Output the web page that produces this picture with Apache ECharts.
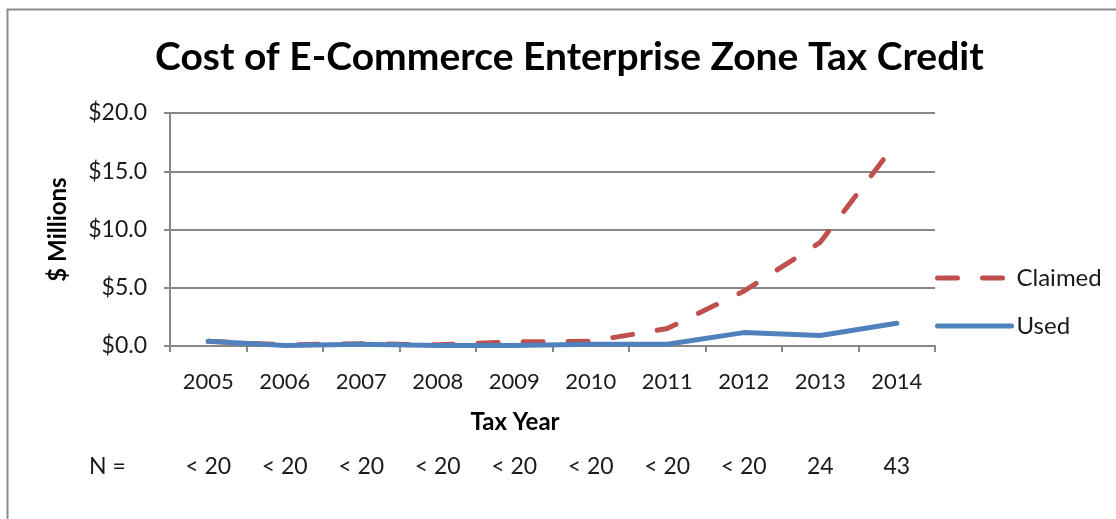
<!DOCTYPE html>
<html>
<head>
<meta charset="utf-8">
<script src="https://cdn.jsdelivr.net/npm/echarts@6/dist/echarts.min.js"></script>
<style>
  html, body { margin: 0; padding: 0; background: #ffffff; }
  #chart { width: 1116px; height: 519px; }
</style>
</head>
<body>
<div id="chart"></div>
<script>
const years = ['2005','2006','2007','2008','2009','2010','2011','2012','2013','2014'];
const nLabels = ['< 20','< 20','< 20','< 20','< 20','< 20','< 20','< 20','24','43'];
const claimed = [0.4, 0.1, 0.2, 0.1, 0.35, 0.4, 1.5, 4.7, 8.9, 17.5];
const used = [0.4, 0.05, 0.15, 0.05, 0.05, 0.15, 0.15, 1.15, 0.9, 1.95];
const yTicks = { min: 0, max: 20, interval: 5 };

const FONT = 'Lato, "Open Sans", sans-serif';
const TXT = '#1a1a1a';
const GRID = '#878787';

const chart = echarts.init(document.getElementById('chart'));
chart.setOption({
  animation: false,
  backgroundColor: '#ffffff',
  textStyle: { fontFamily: FONT, color: TXT },
  title: {
    text: 'Cost of E-Commerce Enterprise Zone Tax Credit',
    left: 150,
    top: 33,
    textStyle: { fontFamily: FONT, fontWeight: 'bold', fontSize: 39, color: '#000' }
  },
  grid: { left: 170, right: 181, top: 113, bottom: 173, containLabel: false },
  legend: {
    orient: 'vertical',
    left: 930,
    top: 261,
    itemWidth: 74,
    itemHeight: 14,
    itemGap: 24,
    itemStyle: { opacity: 0 },
    lineStyle: { width: 5 },
    textStyle: { fontFamily: FONT, fontSize: 24, color: TXT },
    data: ['Claimed', 'Used']
  },
  xAxis: [{
    type: 'category',
    data: years,
    boundaryGap: true,
    axisLine: { lineStyle: { color: GRID, width: 2 } },
    axisTick: { show: true, alignWithLabel: false, length: 6, lineStyle: { color: GRID, width: 2 } },
    axisLabel: { fontFamily: FONT, fontSize: 22, color: TXT, margin: 25 },
    splitLine: { show: false }
  }, {
    type: 'category',
    data: nLabels,
    position: 'bottom',
    offset: 101,
    boundaryGap: true,
    axisLine: { show: false },
    axisTick: { show: false },
    axisLabel: { fontFamily: FONT, fontSize: 23, color: TXT, margin: 8 },
    splitLine: { show: false }
  }],
  yAxis: {
    type: 'value',
    min: yTicks.min,
    max: yTicks.max,
    interval: yTicks.interval,
    name: '$ Millions',
    nameLocation: 'middle',
    nameGap: 100,
    nameRotate: 90,
    nameTextStyle: { fontFamily: FONT, fontWeight: 'bold', fontSize: 24, color: '#000' },
    axisLine: { show: true, lineStyle: { color: GRID, width: 2 } },
    axisTick: { show: true, length: 6, lineStyle: { color: GRID, width: 2 } },
    axisLabel: { fontFamily: FONT, fontSize: 23, color: TXT, margin: 23,
      formatter: v => '$' + v.toFixed(1) },
    splitLine: { show: true, lineStyle: { color: GRID, width: 2 } }
  },
  graphic: [
    { type: 'rect', left: 5, top: 7, shape: { width: 1300, height: 700 },
      style: { fill: 'none', stroke: '#8c8c8c', lineWidth: 2 }, silent: true, z: -1 },
    { type: 'text', x: 515, y: 422, style: { text: 'Tax Year', fontFamily: FONT, fontWeight: 'bold',
      fontSize: 24, fill: '#000', align: 'center', verticalAlign: 'middle' } },
    { type: 'text', x: 89, y: 467, style: { text: 'N =', fontFamily: FONT,
      fontSize: 23, fill: TXT, align: 'left', verticalAlign: 'middle' } }
  ],
  series: [{
    name: 'Claimed',
    type: 'line',
    data: claimed,
    symbol: 'none',
    z: 2,
    itemStyle: { color: '#C0504D' },
    lineStyle: { color: '#C0504D', width: 5, type: [20, 25], cap: 'round', join: 'round' }
  }, {
    name: 'Used',
    type: 'line',
    data: used,
    symbol: 'none',
    z: 3,
    itemStyle: { color: '#4F81BD' },
    lineStyle: { color: '#4F81BD', width: 5, cap: 'round', join: 'round' }
  }]
});
</script>
</body>
</html>
